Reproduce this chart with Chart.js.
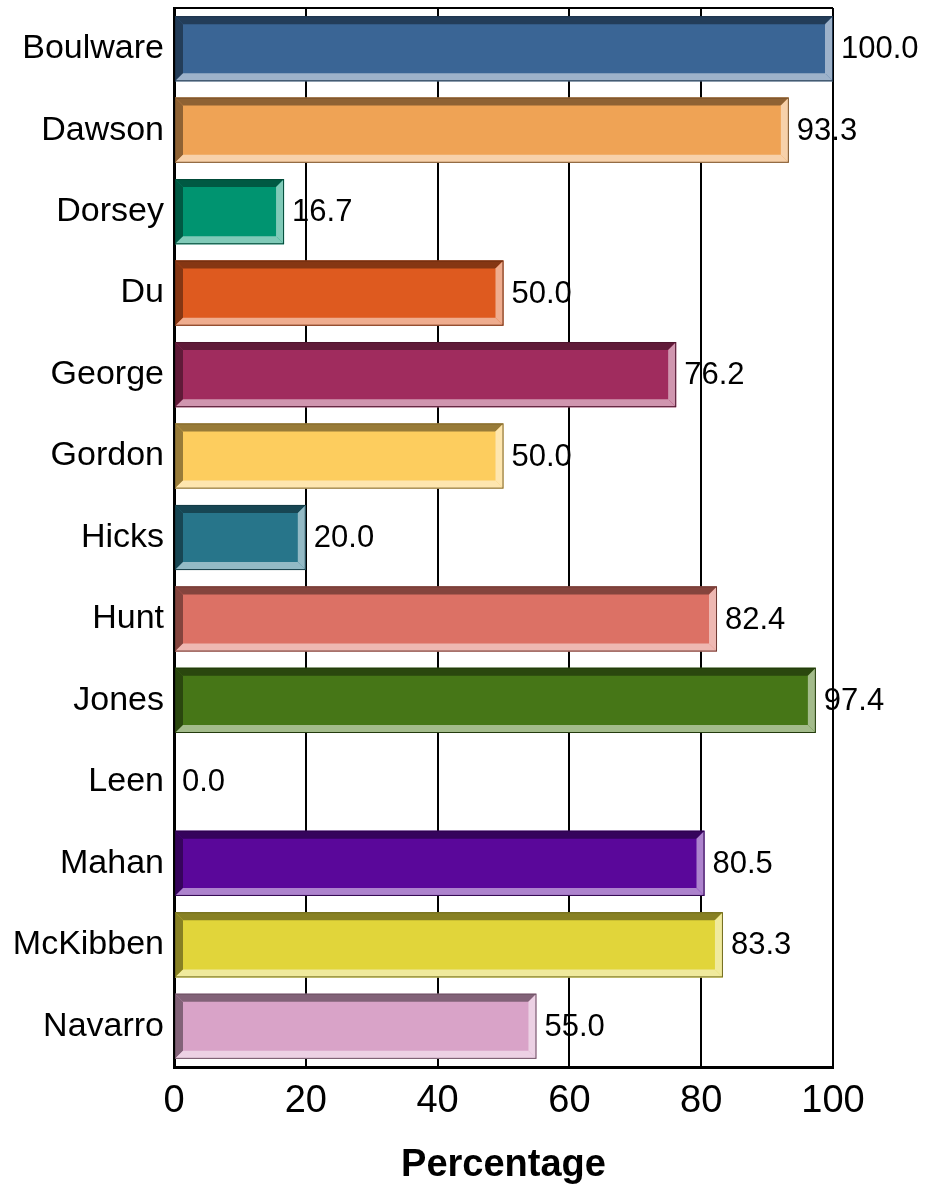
<!DOCTYPE html>
<html>
<head>
<meta charset="utf-8">
<script src="https://cdn.jsdelivr.net/npm/chart.js@4.4.1/dist/chart.umd.min.js"></script>
<style>
  html, body { margin: 0; padding: 0; background: #fff; }
  #wrap { width: 927px; height: 1188px; position: relative; }
</style>
</head>
<body>
<div id="wrap"><canvas id="mycanvas"></canvas></div>
<script>
var names = ["Boulware", "Dawson", "Dorsey", "Du", "George", "Gordon", "Hicks", "Hunt", "Jones", "Leen", "Mahan", "McKibben", "Navarro"];
var percentage = [100.0, 93.3, 16.7, 50.0, 76.2, 50.0, 20.0, 82.4, 97.4, 0.0, 80.5, 83.3, 55.0];
var barColors = ["#3a6595", "#efa355", "#009470", "#de5a1f", "#a02c5e", "#fdcd5e", "#27758a", "#dc7165", "#467617", "#888888", "#5a079a", "#e1d53a", "#d9a3c8"];
var xTicks = [0, 20, 40, 60, 80, 100];

function hexRgb(h) {
    return [parseInt(h.substr(1, 2), 16), parseInt(h.substr(3, 2), 16), parseInt(h.substr(5, 2), 16)];
}
function shade(h, f) {
    var c = hexRgb(h);
    return "rgb(" + Math.round(c[0] * f) + "," + Math.round(c[1] * f) + "," + Math.round(c[2] * f) + ")";
}
function tint(h, f) {
    var c = hexRgb(h);
    return "rgb(" + Math.round(c[0] + (255 - c[0]) * f) + "," + Math.round(c[1] + (255 - c[1]) * f) + "," + Math.round(c[2] + (255 - c[2]) * f) + ")";
}

function poly(ctx, pts, fill) {
    ctx.beginPath();
    ctx.moveTo(pts[0][0], pts[0][1]);
    for (var i = 1; i < pts.length; i++) ctx.lineTo(pts[i][0], pts[i][1]);
    ctx.closePath();
    ctx.fillStyle = fill;
    ctx.fill();
}

// bevel edges + value labels
var bevelPlugin = {
    id: "bevel",
    afterDatasetsDraw: function(chart) {
        var ctx = chart.ctx;
        var meta = chart.getDatasetMeta(0);
        ctx.save();
        meta.data.forEach(function(bar, i) {
            var v = percentage[i];
            var col = barColors[i];
            var l = bar.base, r = bar.x;
            var t = bar.y - bar.height / 2, b = bar.y + bar.height / 2;
            if (r - l > 2) {
                var bw = 8;
                poly(ctx, [[l, t], [r, t], [r - bw, t + bw], [l + bw, t + bw]], shade(col, 0.6));
                poly(ctx, [[l, t], [l + bw, t + bw], [l + bw, b - bw], [l, b]], shade(col, 0.6));
                poly(ctx, [[l, b], [l + bw, b - bw], [r - bw, b - bw], [r, b]], tint(col, 0.5));
                poly(ctx, [[r, t], [r, b], [r - bw, b - bw], [r - bw, t + bw]], tint(col, 0.5));
                ctx.strokeStyle = shade(col, 0.5);
                ctx.lineWidth = 1;
                ctx.strokeRect(l + 0.5, t + 0.5, r - l - 1, b - t - 1);
            }
            ctx.fillStyle = "#000";
            ctx.font = "31px 'Liberation Sans', Arial, sans-serif";
            ctx.textBaseline = "middle";
            ctx.textAlign = "left";
            ctx.fillText(v.toFixed(1), r + 8, bar.y + 1);
        });
        // top frame line
        var a = chart.chartArea;
        ctx.strokeStyle = "#000";
        ctx.lineWidth = 2;
        ctx.beginPath();
        ctx.moveTo(a.left, a.top);
        ctx.lineTo(a.right, a.top);
        ctx.stroke();
        ctx.restore();
    }
};

var ctx = document.getElementById("mycanvas");
var HBar = new Chart(ctx, {
    type: "bar",
    data: {
        labels: names,
        datasets: [{
            data: percentage,
            backgroundColor: barColors,
            borderWidth: 0,
            categoryPercentage: 0.8,
            barPercentage: 1.0
        }]
    },
    options: {
        indexAxis: "y",
        responsive: true,
        maintainAspectRatio: false,
        animation: false,
        layout: { padding: { top: 8, right: 94, left: 0, bottom: 0 } },
        plugins: { legend: { display: false }, tooltip: { enabled: false } },
        scales: {
            x: {
                min: 0,
                max: 100,
                afterBuildTicks: function(scale) {
                    scale.ticks = xTicks.map(function(v) { return { value: v }; });
                },
                afterFit: function(scale) {
                    scale.height = 121;
                    scale.paddingLeft = 0;
                    scale.paddingRight = 0;
                },
                grid: { color: "#000", lineWidth: 2, drawTicks: false },
                border: { color: "#000", width: 3 },
                ticks: {
                    color: "#000",
                    padding: 12,
                    font: { family: "'Liberation Sans', Arial, sans-serif", size: 38 }
                },
                title: {
                    display: true,
                    text: "Percentage",
                    color: "#000",
                    padding: { top: 14, bottom: 0 },
                    font: { family: "'Liberation Sans', Arial, sans-serif", size: 38, weight: "bold" }
                }
            },
            y: {
                afterFit: function(scale) {
                    scale.width = 174;
                    scale.paddingTop = 0;
                    scale.paddingBottom = 0;
                },
                grid: { display: false, drawTicks: false },
                border: { color: "#000", width: 3 },
                ticks: {
                    color: "#000",
                    padding: 10,
                    font: { family: "'Liberation Sans', Arial, sans-serif", size: 34 }
                }
            }
        }
    },
    plugins: [bevelPlugin]
});
</script>
</body>
</html>
